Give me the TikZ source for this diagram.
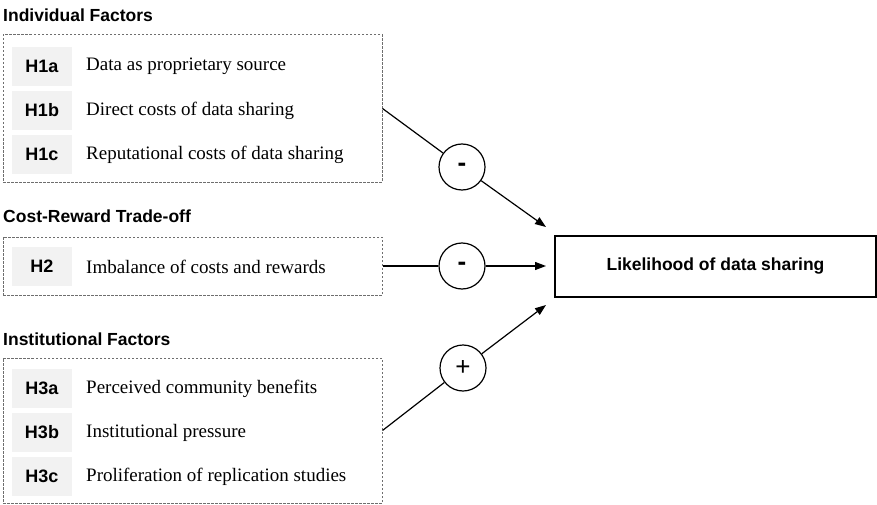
\documentclass[tikz,border=0pt]{standalone}
\usepackage{fontspec}
\setmainfont{Liberation Serif}
\newfontfamily\arial{Liberation Sans}
\usetikzlibrary{arrows.meta}
\definecolor{hgray}{RGB}{242,242,242}
\definecolor{dgray}{RGB}{110,110,110}
\tikzset{
  pix/.style={x=1pt,y=-1pt},
  grouptitle/.style={anchor=west,inner sep=0pt,font=\arial\bfseries\fontsize{17.5}{20}\selectfont},
  groupbox/.style={draw=dgray,dash pattern=on 2.5pt off 1.5pt,line width=1pt,minimum width=379pt,inner sep=0pt},
  hyp/.style={fill=hgray,minimum width=60pt,minimum height=39pt,inner sep=0pt,font=\arial\bfseries\fontsize{18}{20}\selectfont},
  desc/.style={anchor=west,inner sep=0pt,font=\fontsize{19}{22}\selectfont},
  sign/.style={circle,draw,line width=1.2pt,minimum size=46pt,inner sep=0pt,font=\arial\fontsize{26}{26}\selectfont},
  conn/.style={line width=1.2pt},
  arr/.style={line width=1.2pt,-{Triangle[length=11pt,width=8pt]}}
}
\begin{document}
\begin{tikzpicture}[pix]
    \useasboundingbox (0,0) rectangle (877,505);
    \node[grouptitle] (t1) at (3,15.5) {Individual Factors};
    \node[grouptitle] (t2) at (3,216.5) {Cost-Reward Trade-off};
    \node[grouptitle] (t3) at (3,339) {Institutional Factors};
    \node[groupbox,minimum height=147pt] (g1) at (192.5,108.5) {};
    \node[groupbox,minimum height=58pt] (g2) at (192.5,266) {};
    \node[groupbox,minimum height=145pt] (g3) at (192.5,430.5) {};
    \foreach \lab/\txt/\y in {H1a/Data as proprietary source/66.5,
                              H1b/Direct costs of data sharing/110.5,
                              H1c/Reputational costs of data sharing/154.5,
                              H2/Imbalance of costs and rewards/266.5,
                              H3a/Perceived community benefits/388.5,
                              H3b/Institutional pressure/432.5,
                              H3c/Proliferation of replication studies/476.5}
      {\node[hyp] (\lab) at (42,\y) {\lab};
       \node[desc] (\lab-txt) at (86,\y) {\txt};}
    \node[draw,line width=1.2pt,minimum width=321pt,minimum height=61pt,inner sep=0pt,
          font=\arial\bfseries\fontsize{17.5}{20}\selectfont] (lds) at (715.5,266.5) {Likelihood of data sharing};
    \node[sign] (c1) at (462,167) {\bfseries -};
    \node[sign] (c2) at (462,266) {\bfseries -};
    \node[sign] (c3) at (463,368) {+};
    \coordinate (e1) at (546,227);
    \coordinate (e2) at (546,266);
    \coordinate (e3) at (546,305);
    \draw[conn] (g1.east) -- (c1);
    \draw[conn] (g2.east) -- (c2);
    \draw[conn] (g3.east) -- (c3);
    \draw[arr] (c1) -- (e1);
    \draw[arr] (c2) -- (e2);
    \draw[arr] (c3) -- (e3);
\end{tikzpicture}
\end{document}
